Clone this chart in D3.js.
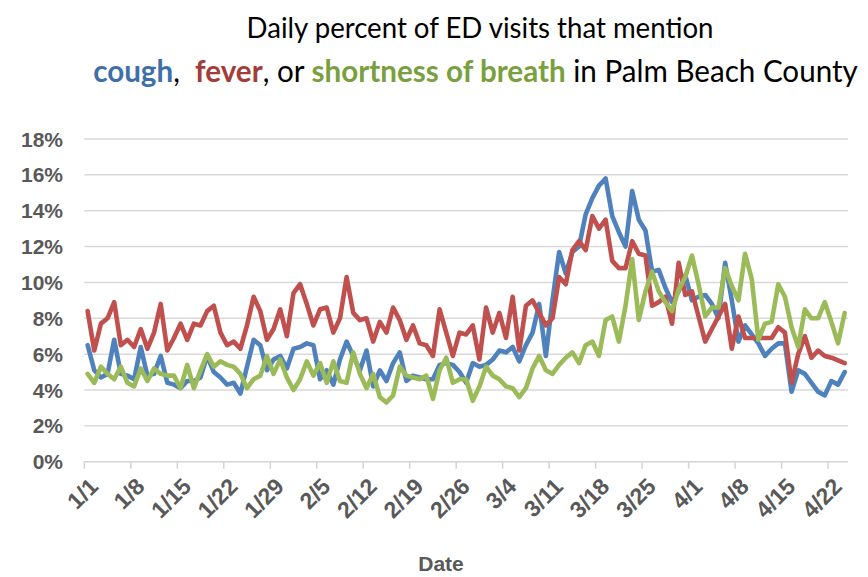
<!DOCTYPE html>
<html>
<head>
<meta charset="utf-8">
<script src="https://cdn.jsdelivr.net/npm/d3@7"></script>
<style>
  body { margin: 0; background: #fff; }
  svg { display: block; }
  .tick-label { font-family: "Liberation Sans", Arial, sans-serif; font-weight: bold; fill: #595959; }
  .title { font-family: Lato, "Open Sans", sans-serif; fill: #000; white-space: pre; }
</style>
</head>
<body>
<script>
// Daily percent of ED visits, Palm Beach County, 1/1 - 4/24 (2020)
var startDate = new Date(2020, 0, 1),
    endDate = new Date(2020, 3, 25);

var cough = [
  6.5, 5.1, 4.7, 4.9, 6.8, 4.9, 4.8, 4.6, 6.4, 4.8,
  4.9, 5.9, 4.4, 4.3, 4.1, 4.5, 4.5, 4.7, 5.9, 5.0,
  4.7, 4.3, 4.4, 3.8, 5.3, 6.8, 6.5, 5.1, 5.7, 5.9,
  5.2, 6.3, 6.4, 6.6, 6.5, 4.6, 5.1, 4.3, 5.7, 6.7,
  5.9, 5.1, 6.2, 4.2, 5.1, 4.5, 5.5, 6.1, 4.5, 4.8,
  4.7, 4.6, 4.6, 5.4, 5.5, 5.4, 5.0, 4.4, 5.5, 5.3,
  5.4, 5.7, 6.2, 6.1, 6.4, 5.6, 6.5, 7.2, 8.8, 5.9,
  9.0, 11.7, 10.5, 11.7, 12.0, 13.8, 14.7, 15.4, 15.8, 13.7,
  12.8, 12.0, 15.1, 13.5, 12.9, 10.6, 10.7, 9.7, 8.9, 9.5,
  10.4, 9.0, 9.2, 9.3, 8.8, 8.0, 11.1, 9.0, 6.7, 7.6,
  7.1, 6.6, 5.9, 6.3, 6.6, 6.6, 3.9, 5.1, 4.9, 4.4,
  3.9, 3.7, 4.5, 4.3, 5.0
];

var fever = [
  8.4, 6.2, 7.7, 8.0, 8.9, 6.5, 6.8, 6.4, 7.4, 6.3,
  7.2, 8.8, 6.2, 6.9, 7.7, 6.8, 7.7, 7.6, 8.4, 8.7,
  7.2, 6.5, 6.7, 6.3, 7.6, 9.2, 8.4, 6.8, 7.4, 8.5,
  7.0, 9.4, 9.9, 8.8, 7.6, 8.5, 8.6, 7.2, 8.0, 10.3,
  8.3, 7.9, 8.0, 6.7, 7.8, 7.2, 8.6, 7.9, 6.8, 7.6,
  6.6, 6.5, 5.9, 8.5, 7.2, 5.9, 7.2, 7.1, 7.6, 5.7,
  8.6, 7.2, 8.3, 6.9, 9.2, 6.2, 8.7, 9.0, 8.3, 7.6,
  8.0, 10.3, 9.9, 11.8, 12.3, 11.8, 13.7, 13.0, 13.5, 11.2,
  10.8, 10.8, 12.3, 11.6, 11.5, 8.7, 8.9, 9.2, 7.7, 11.1,
  9.3, 9.5, 8.1, 6.7, 7.4, 8.1, 8.8, 6.3, 8.1, 6.9,
  6.9, 6.9, 6.9, 6.9, 7.5, 7.2, 4.4, 6.0, 7.0, 5.8,
  6.2, 5.9, 5.8, 5.65, 5.5
];

var breath = [
  4.9, 4.4, 5.3, 4.9, 4.6, 5.3, 4.4, 4.2, 5.2, 4.5,
  5.2, 4.9, 4.8, 4.8, 4.1, 5.4, 4.1, 5.1, 6.0, 5.3,
  5.6, 5.4, 5.3, 4.9, 4.1, 4.6, 4.8, 5.9, 4.9, 5.7,
  4.7, 4.0, 4.6, 5.6, 4.8, 5.5, 4.4, 5.6, 4.5, 4.4,
  6.1, 4.9, 4.1, 4.9, 3.6, 3.3, 3.7, 5.3, 4.8, 4.7,
  4.6, 4.8, 3.5, 5.1, 5.8, 4.4, 4.6, 4.6, 3.4, 4.2,
  5.3, 4.8, 4.6, 4.2, 4.1, 3.6, 4.1, 5.2, 5.9, 5.1,
  4.9, 5.4, 5.8, 6.1, 5.5, 6.5, 6.7, 5.9, 7.9, 8.1,
  6.7, 8.7, 11.3, 7.9, 9.5, 10.6, 9.5, 8.9, 8.4, 9.6,
  10.3, 11.5, 9.9, 8.1, 8.6, 8.6, 10.8, 9.8, 9.0, 11.6,
  10.2, 6.8, 7.7, 7.8, 9.9, 9.2, 7.5, 6.4, 8.5, 8.0,
  8.0, 8.9, 7.8, 6.6, 8.3
];

var yTicks = [0, 2, 4, 6, 8, 10, 12, 14, 16, 18];
var xTickLabels = ["1/1", "1/8", "1/15", "1/22", "1/29", "2/5", "2/12", "2/19", "2/26",
                   "3/4", "3/11", "3/18", "3/25", "4/1", "4/8", "4/15", "4/22"];

var series = [
  {name: "cough", values: cough, color: "#4f81bd"},
  {name: "fever", values: fever, color: "#c0504d"},
  {name: "shortness of breath", values: breath, color: "#9bbb59"}
];

var width = 868,
    height = 577,
    plotLeft = 84.3,
    plotRight = 848,
    plotTop = 139,
    plotBottom = 461.7;

var fmt = function(d) { return (d.getMonth() + 1) + "/" + d.getDate(); };
var categories = d3.timeDay.range(startDate, endDate).map(fmt);

var x = d3.scaleBand()
    .domain(categories)
    .range([plotLeft, plotRight])
    .padding(0);

var y = d3.scaleLinear()
    .domain([0, 18])
    .range([plotBottom, plotTop]);

var svg = d3.select("body")
  .append("svg")
    .attr("width", width)
    .attr("height", height);

// gridlines
svg.append("g")
  .selectAll("line")
    .data(yTicks.filter(function(d) { return d > 0; }))
    .enter()
  .append("line")
    .attr("x1", plotLeft)
    .attr("x2", plotRight)
    .attr("y1", function(d) { return y(d); })
    .attr("y2", function(d) { return y(d); })
    .attr("stroke", "#d9d9d9")
    .attr("stroke-width", 1.5);

// y labels
svg.append("g")
  .selectAll("text")
    .data(yTicks)
    .enter()
  .append("text")
    .attr("class", "tick-label")
    .attr("x", 63)
    .attr("y", function(d) { return y(d); })
    .attr("dy", "0.36em")
    .attr("text-anchor", "end")
    .style("font-size", "21px")
    .text(function(d) { return d + "%"; });

// x axis line + ticks
svg.append("line")
    .attr("x1", plotLeft)
    .attr("x2", plotRight)
    .attr("y1", plotBottom)
    .attr("y2", plotBottom)
    .attr("stroke", "#d4d4d4")
    .attr("stroke-width", 1.5);

svg.append("g")
  .selectAll("line")
    .data(xTickLabels)
    .enter()
  .append("line")
    .attr("x1", function(d) { return x(d); })
    .attr("x2", function(d) { return x(d); })
    .attr("y1", plotBottom)
    .attr("y2", plotBottom + 7)
    .attr("stroke", "#d4d4d4")
    .attr("stroke-width", 1.5);

svg.append("g")
  .selectAll("text")
    .data(xTickLabels)
    .enter()
  .append("text")
    .attr("class", "tick-label")
    .attr("text-anchor", "end")
    .attr("dy", "0.36em")
    .attr("transform", function(d) {
      var cx = x(d) + x.bandwidth() / 2 + 6;
      return "translate(" + cx + "," + 482 + ") rotate(-45)";
    })
    .style("font-size", "23px")
    .text(function(d) { return d; });

// axis title
svg.append("text")
    .attr("class", "tick-label")
    .attr("x", 441)
    .attr("y", 571)
    .attr("text-anchor", "middle")
    .style("font-size", "21px")
    .text("Date");

// lines
var line = d3.line()
    .x(function(d, i) { return x(categories[i]) + x.bandwidth() / 2; })
    .y(function(d) { return y(d); });

svg.append("g")
  .selectAll("path")
    .data(series)
    .enter()
  .append("path")
    .attr("d", function(s) { return line(s.values); })
    .attr("fill", "none")
    .attr("stroke", function(s) { return s.color; })
    .attr("stroke-width", 4.6)
    .attr("stroke-linejoin", "round")
    .attr("stroke-linecap", "round");

// titles, squeezed to the measured widths
function fitTitle(sel, cx, cy, targetWidth) {
  var w = sel.node().getComputedTextLength();
  sel.attr("transform", "translate(" + cx + "," + cy + ") scale(" + (targetWidth / w) + ",1)");
}

var t1 = svg.append("text")
    .attr("class", "title")
    .attr("text-anchor", "middle")
    .style("font-size", "28px")
    .text("Daily percent of ED visits that mention");
fitTitle(t1, 480, 38, 467);

var parts = [
  {text: "cough", color: "#3f6fa9", bold: true},
  {text: ",  ", color: "#000", bold: false},
  {text: "fever", color: "#a33d3a", bold: true},
  {text: ", or ", color: "#000", bold: false},
  {text: "shortness of breath", color: "#79a03e", bold: true},
  {text: " in Palm Beach County", color: "#000", bold: false}
];

var t2 = svg.append("text")
    .attr("class", "title")
    .attr("text-anchor", "middle")
    .style("font-size", "30px");

t2.selectAll("tspan")
    .data(parts)
    .enter()
  .append("tspan")
    .style("fill", function(d) { return d.color; })
    .style("font-weight", function(d) { return d.bold ? "bold" : "normal"; })
    .text(function(d) { return d.text; });
fitTitle(t2, 475.5, 82, 765);
</script>
</body>
</html>
